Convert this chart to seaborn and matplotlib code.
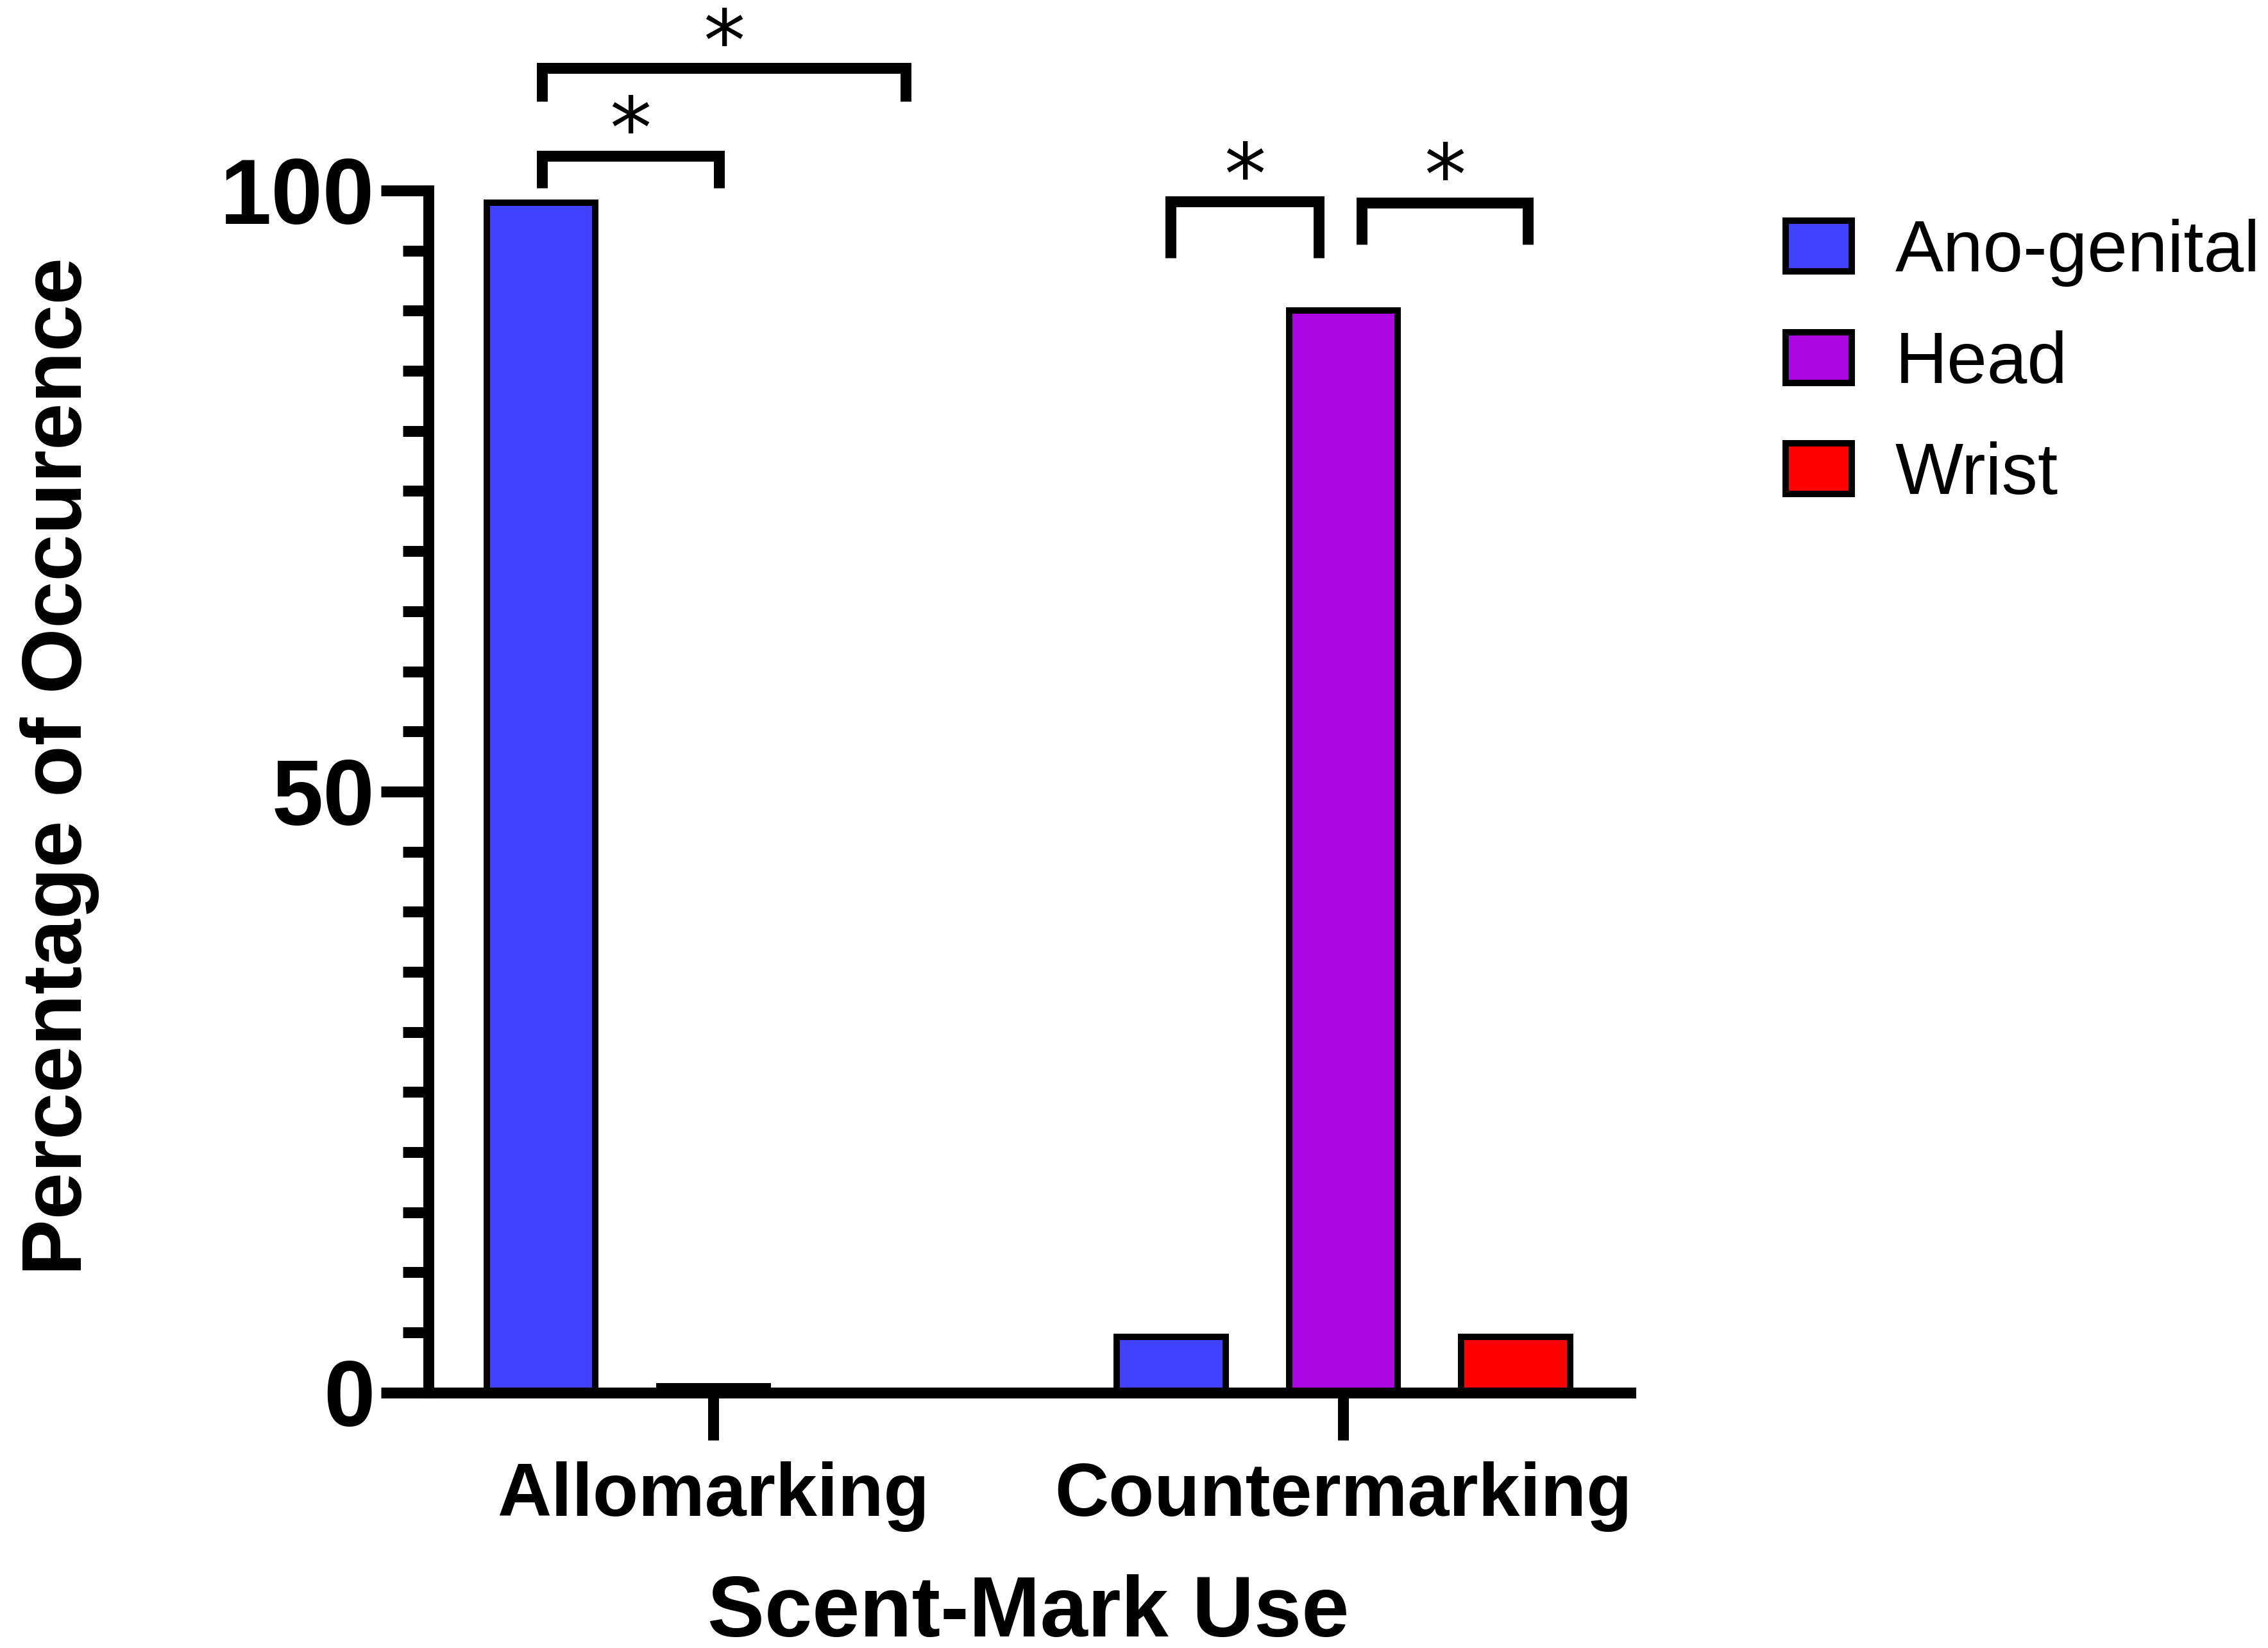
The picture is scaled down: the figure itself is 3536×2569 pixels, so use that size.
import pandas as pd
import seaborn as sns
import matplotlib.pyplot as plt
from matplotlib.ticker import MultipleLocator

# data (percent of occurrence)
uses = ["Allomarking", "Countermarking"]
sites = ["Ano-genital", "Head", "Wrist"]
allomarking = [99.0, 0.5, 0.0]
countermarking = [4.65, 90.0, 4.65]
colors = ["#4141FF", "#AB07E2", "#FF0000"]

# significance comparisons: (use, site from, site to, label)
comparisons = [
    ("Allomarking", "Ano-genital", "Wrist", "*"),
    ("Allomarking", "Ano-genital", "Head", "*"),
    ("Countermarking", "Ano-genital", "Head", "*"),
    ("Countermarking", "Head", "Wrist", "*"),
]

df = pd.DataFrame({
    "use": [u for u in uses for _ in sites],
    "site": sites * len(uses),
    "pct": allomarking + countermarking,
})

sns.set_theme(style="ticks", rc={
    "axes.edgecolor": "black", "xtick.color": "black", "ytick.color": "black",
    "text.color": "black", "axes.labelcolor": "black",
})
plt.rcParams["font.family"] = ["Liberation Sans", "DejaVu Sans"]

fig, ax = plt.subplots(figsize=(17.68, 12.845), dpi=200)
fig.subplots_adjust(left=0.189, right=0.719, bottom=0.155, top=0.8844)

sns.barplot(data=df, x="use", y="pct", hue="site", order=uses, hue_order=sites,
            palette=colors, saturation=1, width=0.82, gap=0.37,
            edgecolor="black", linewidth=3.6, errorbar=None, legend=False, ax=ax)

ax.set_xlim(-0.452, 1.456)
ax.set_ylim(0, 100)
ax.set_yticks([0, 50, 100])
ax.yaxis.set_minor_locator(MultipleLocator(5))
sns.despine(ax=ax)
for s in ["left", "bottom"]:
    ax.spines[s].set_linewidth(6.1)
ax.tick_params(which="major", length=26.6, width=6.1)
ax.tick_params(which="minor", length=14.4, width=6.1)
ax.tick_params(axis="y", labelsize=52, pad=3.6)
ax.tick_params(axis="x", labelsize=42, pad=12)
for lab in ax.get_xticklabels() + ax.get_yticklabels():
    lab.set_fontweight("bold")

ax.set_xlabel("Scent-Mark Use", fontsize=48, fontweight="bold")
ax.set_ylabel("Percentage of Occurence", fontsize=47.4, fontweight="bold")
ax.xaxis.set_label_coords(0.499, -0.151)
ax.yaxis.set_label_coords(-0.2737, 0.521)

# bar centres from the drawn bars
centres = {}
for site, cont in zip(sites, ax.containers):
    for p in cont.patches:
        xc = p.get_x() + p.get_width() / 2
        centres[(uses[int(round(xc))], site)] = xc

# bracket layout: end nudges (x units), top level, leg bottoms
bracket_style = [
    (0.001, 0.032, 110.2, 107.4, 107.4),
    (0.001, 0.009, 102.9, 100.2, 100.2),
    (-0.001, -0.039, 99.1, 94.4, 94.4),
    (0.029, 0.019, 99.0, 95.5, 95.5),
]
for (use, a, b, lab), (da, db, top, la, lb) in zip(comparisons, bracket_style):
    x1 = centres[(use, a)] + da
    x2 = centres[(use, b)] + db
    ax.plot([x1, x1, x2, x2], [la, top, top, lb], color="black", lw=6.1,
            solid_joinstyle="miter", solid_capstyle="butt", clip_on=False)
    ax.text((x1 + x2) / 2, top - 0.2, lab, ha="center", va="baseline",
            fontsize=47, family="DejaVu Sans", clip_on=False)

ax.legend(ax.containers, sites, loc="upper left", bbox_to_anchor=(0.7873, 0.8672),
          bbox_transform=fig.transFigure, frameon=False, fontsize=40.5,
          handlelength=0.92, handleheight=0.7, handletextpad=0.6,
          labelspacing=0.6, borderpad=0, borderaxespad=0)

plt.savefig("out.png", dpi=200)
